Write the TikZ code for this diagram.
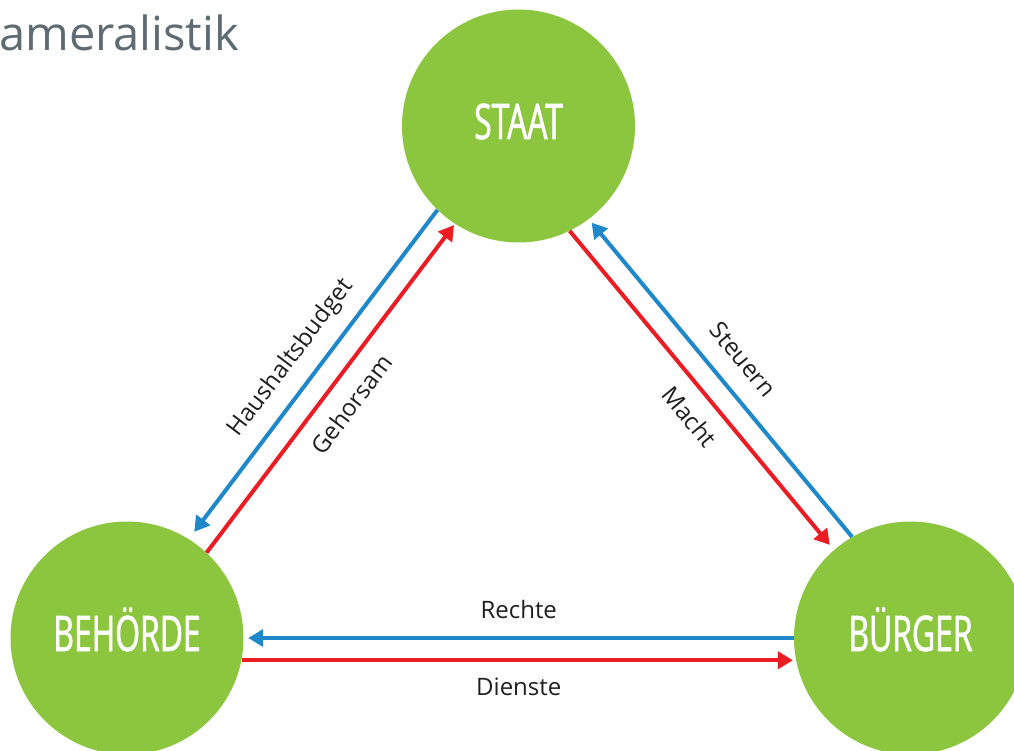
\documentclass[tikz,border=0pt]{standalone}
\usepackage{fontspec}
\setmainfont{Open Sans}
\newfontfamily\circfont[FakeStretch=0.65, FakeBold=1.3]{Open Sans}
\usetikzlibrary{calc}
\usetikzlibrary{arrows.meta}
\definecolor{leaf}{HTML}{8CC63F}
\definecolor{flowblue}{HTML}{1E88CA}
\definecolor{flowred}{HTML}{EC1C24}
\definecolor{titlegray}{HTML}{5E6B73}

\begin{document}
\begin{tikzpicture} [x=1pt, y=-1pt,
  circ/.style={circle, fill=leaf, minimum size=233pt, inner sep=0pt, text=white,
    text height=36pt, text depth=10pt, font=\circfont\fontsize{49}{50}\selectfont},
  flow/.style={line width=4pt, -{Triangle[length=15pt,width=17pt]}},
  lbl/.style={font=\fontsize{24}{28}\selectfont, text=black!88, inner sep=0pt, text height=17pt, text depth=6pt}]
\useasboundingbox (0,0) rectangle (1014,751);
\clip (0,0) rectangle (1014,751);
\node[anchor=base west, inner sep=0pt, text=titlegray, font=\fontsize{47}{52}\selectfont] (title) at (-1,51) {ameralistik};
\node[circ] (staat) at (518.5,126) {STAAT};
\node[circ] (behoerde) at (127,638) {BEHÖRDE};
\node[circ] (buerger) at (910.5,638) {BÜRGER};
\draw[flow, flowblue, shorten >=9pt] (staat.226) -- (behoerde.58)
  node[lbl, midway, sloped, above=13pt] (budget) {Haushaltsbudget};
\draw[flow, flowred, shorten >=1.5pt] (behoerde.47) -- (staat.237)
  node[lbl, midway, sloped, below=16pt] (gehorsam) {Gehorsam};
\draw[flow, flowred, shorten >=6.5pt] (staat.296) -- (buerger.131)
  node[lbl, pos=.53, sloped, below=16pt] (macht) {Macht};
\draw[flow, flowblue, shorten >=4.5pt] (buerger.120) -- (staat.307)
  node[lbl, midway, sloped, above=13pt] (steuern) {Steuern};
\draw[flow, flowblue, shorten >=4.5pt] (buerger.180) -- (behoerde.0)
  node[lbl, midway, above=12pt] (rechte) {Rechte};
\draw[flow, flowred, shorten >=3pt] (behoerde.349) -- (buerger.191)
  node[lbl, midway, below=16pt] (dienste) {Dienste};
\end{tikzpicture}
\end{document}
